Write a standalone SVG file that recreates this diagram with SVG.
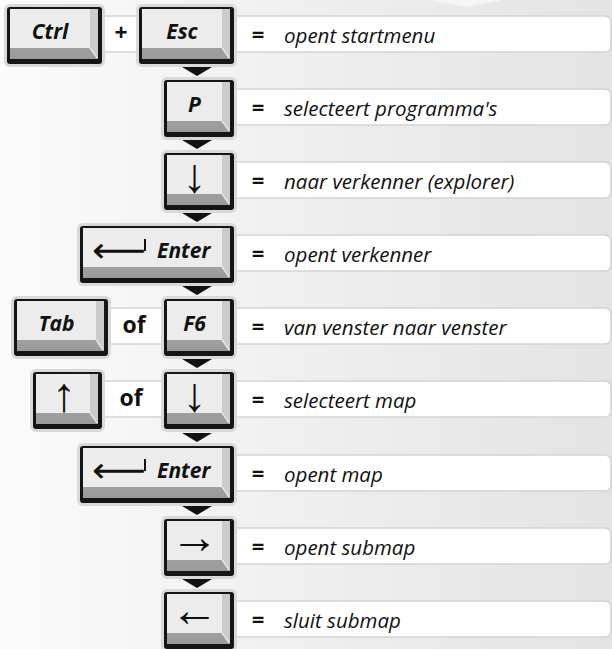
<svg xmlns="http://www.w3.org/2000/svg" width="612" height="649" viewBox="0 0 612 649">
<defs>
<linearGradient id="bg" x1="0" y1="0" x2="1" y2="0">
<stop offset="0" stop-color="#fbfbfb"/>
<stop offset="0.45" stop-color="#f0f0f0"/>
<stop offset="1" stop-color="#e3e3e3"/>
</linearGradient>
<linearGradient id="bbg" x1="0" y1="0" x2="0" y2="1">
<stop offset="0" stop-color="#b4b4b4"/>
<stop offset="1" stop-color="#9a9a9a"/>
</linearGradient>
<style>
.halo{fill:#d9d9d9}
.bd{fill:#151515}
.bb{fill:url(#bbg)}
.rb{fill:#cbcbcb}
.fc{fill:#ececec}
.hl{stroke:#f2f2f2;stroke-width:1.2}
.bar{fill:#ffffff;stroke:#d4d4d4;stroke-width:1.5}
.kl{font-family:"Open Sans","DejaVu Sans",sans-serif;font-weight:bold;font-style:italic;font-size:21px;fill:#111;text-anchor:middle}
.ar{font-family:"Liberation Sans","DejaVu Sans",sans-serif;font-size:48px;fill:#111;text-anchor:middle;dominant-baseline:central}
.la{font-family:"DejaVu Sans",sans-serif;font-size:35px;fill:#111;dominant-baseline:central}
.tick{stroke:#111;stroke-width:2}
.op{font-family:"Open Sans","DejaVu Sans",sans-serif;font-weight:bold;font-size:23px;fill:#111;text-anchor:middle}
.eq{font-family:"Open Sans","DejaVu Sans",sans-serif;font-weight:bold;font-size:22px;fill:#111;text-anchor:middle}
.ds{font-family:"Open Sans","DejaVu Sans",sans-serif;font-style:italic;font-size:20.5px;fill:#111}
.tri{fill:#111}
</style>
</defs>
<rect x="0" y="0" width="612" height="649" fill="url(#bg)"/>
<polygon points="430,0 466,7 502,0" fill="#f5f5f5"/>

<g id="bars">
<rect class="bar" x="100" y="16" width="511" height="36" rx="6"/>
<rect class="bar" x="228" y="89" width="383" height="36" rx="6"/>
<rect class="bar" x="228" y="162" width="383" height="36" rx="6"/>
<rect class="bar" x="228" y="235" width="383" height="36" rx="6"/>
<rect class="bar" x="104" y="308" width="507" height="36" rx="6"/>
<rect class="bar" x="99" y="381" width="512" height="36" rx="6"/>
<rect class="bar" x="228" y="455" width="383" height="36" rx="6"/>
<rect class="bar" x="228" y="528" width="383" height="36" rx="6"/>
<rect class="bar" x="228" y="601" width="383" height="36" rx="6"/>
</g>

<g id="connectors">
<polygon class="tri" points="182,67 212,67 197,76"/>
<polygon class="tri" points="182,140 212,140 197,149"/>
<polygon class="tri" points="182,213 212,213 197,222"/>
<polygon class="tri" points="182,286 212,286 197,295"/>
<polygon class="tri" points="182,359 212,359 197,368"/>
<polygon class="tri" points="182,433 212,433 197,442"/>
<polygon class="tri" points="182,506 212,506 197,515"/>
<polygon class="tri" points="182,579 212,579 197,588"/>
</g>

<!-- Row 0 -->
<g id="key-ctrl">
<rect class="halo" x="4" y="4" width="101" height="63" rx="6"/>
<rect class="bd" x="7" y="7" width="95" height="57" rx="3"/>
<rect class="bb" x="10" y="9" width="88" height="50"/>
<polygon class="rb" points="90,9 98,9 98,59 90,48"/>
<rect class="fc" x="10" y="9" width="80" height="39"/>
<line class="hl" x1="90" y1="48" x2="97" y2="58"/>
<text class="kl" x="50" y="39">Ctrl</text>
</g>
<g id="plus"><text class="op" x="121" y="41">+</text></g>
<g id="key-esc">
<rect class="halo" x="136" y="4" width="101" height="63" rx="6"/>
<rect class="bd" x="139" y="7" width="95" height="57" rx="3"/>
<rect class="bb" x="142" y="9" width="88" height="50"/>
<polygon class="rb" points="222,9 230,9 230,59 222,48"/>
<rect class="fc" x="142" y="9" width="80" height="39"/>
<line class="hl" x1="222" y1="48" x2="229" y2="58"/>
<text class="kl" x="182" y="39">Esc</text>
</g>
<g id="desc-0"><text class="eq" x="258" y="42">=</text><text class="ds" x="284" y="42.5">opent startmenu</text></g>

<!-- Row 1 -->
<g id="key-p">
<rect class="halo" x="161" y="77" width="76" height="63" rx="6"/>
<rect class="bd" x="164" y="80" width="70" height="57" rx="3"/>
<rect class="bb" x="167" y="82" width="63" height="50"/>
<polygon class="rb" points="222,82 230,82 230,132 222,121"/>
<rect class="fc" x="167" y="82" width="55" height="39"/>
<line class="hl" x1="222" y1="121" x2="229" y2="131"/>
<text class="kl" x="194.5" y="112">P</text>
</g>
<g id="desc-1"><text class="eq" x="258" y="115">=</text><text class="ds" x="284" y="115.5">selecteert programma's</text></g>

<!-- Row 2 -->
<g id="key-down-1">
<rect class="halo" x="161" y="150" width="76" height="63" rx="6"/>
<rect class="bd" x="164" y="153" width="70" height="57" rx="3"/>
<rect class="bb" x="167" y="155" width="63" height="50"/>
<polygon class="rb" points="222,155 230,155 230,205 222,194"/>
<rect class="fc" x="167" y="155" width="55" height="39"/>
<line class="hl" x1="222" y1="194" x2="229" y2="204"/>
<text class="ar" x="194.5" y="175">↓</text>
</g>
<g id="desc-2"><text class="eq" x="258" y="188">=</text><text class="ds" x="284" y="188.5">naar verkenner (explorer)</text></g>

<!-- Row 3 -->
<g id="key-enter-1">
<rect class="halo" x="77" y="223" width="160" height="63" rx="6"/>
<rect class="bd" x="80" y="226" width="154" height="57" rx="3"/>
<rect class="bb" x="83" y="228" width="147" height="50"/>
<polygon class="rb" points="222,228 230,228 230,278 222,267"/>
<rect class="fc" x="83" y="228" width="139" height="39"/>
<line class="hl" x1="222" y1="267" x2="229" y2="277"/>
<text class="la" x="92" y="250" textLength="54" lengthAdjust="spacingAndGlyphs">⟵</text>
<line class="tick" x1="145" y1="239" x2="145" y2="251"/>
<text class="kl" x="157" y="258" style="text-anchor:start">Enter</text>
</g>
<g id="desc-3"><text class="eq" x="258" y="261">=</text><text class="ds" x="284" y="261.5">opent verkenner</text></g>

<!-- Row 4 -->
<g id="key-tab">
<rect class="halo" x="11" y="296" width="100" height="63" rx="6"/>
<rect class="bd" x="14" y="299" width="94" height="57" rx="3"/>
<rect class="bb" x="17" y="301" width="87" height="50"/>
<polygon class="rb" points="96,301 104,301 104,351 96,340"/>
<rect class="fc" x="17" y="301" width="79" height="39"/>
<line class="hl" x1="96" y1="340" x2="103" y2="350"/>
<text class="kl" x="56.5" y="331">Tab</text>
</g>
<g id="of-1"><text class="op" x="134" y="333">of</text></g>
<g id="key-f6">
<rect class="halo" x="161" y="296" width="76" height="63" rx="6"/>
<rect class="bd" x="164" y="299" width="70" height="57" rx="3"/>
<rect class="bb" x="167" y="301" width="63" height="50"/>
<polygon class="rb" points="222,301 230,301 230,351 222,340"/>
<rect class="fc" x="167" y="301" width="55" height="39"/>
<line class="hl" x1="222" y1="340" x2="229" y2="350"/>
<text class="kl" x="194.5" y="331">F6</text>
</g>
<g id="desc-4"><text class="eq" x="258" y="334">=</text><text class="ds" x="284" y="334.5">van venster naar venster</text></g>

<!-- Row 5 -->
<g id="key-up">
<rect class="halo" x="30" y="369" width="75" height="63" rx="6"/>
<rect class="bd" x="33" y="372" width="69" height="57" rx="3"/>
<rect class="bb" x="36" y="374" width="62" height="50"/>
<polygon class="rb" points="90,374 98,374 98,424 90,413"/>
<rect class="fc" x="36" y="374" width="54" height="39"/>
<line class="hl" x1="90" y1="413" x2="97" y2="423"/>
<text class="ar" x="64" y="394">↑</text>
</g>
<g id="of-2"><text class="op" x="131" y="406">of</text></g>
<g id="key-down-2">
<rect class="halo" x="161" y="369" width="76" height="63" rx="6"/>
<rect class="bd" x="164" y="372" width="70" height="57" rx="3"/>
<rect class="bb" x="167" y="374" width="63" height="50"/>
<polygon class="rb" points="222,374 230,374 230,424 222,413"/>
<rect class="fc" x="167" y="374" width="55" height="39"/>
<line class="hl" x1="222" y1="413" x2="229" y2="423"/>
<text class="ar" x="194.5" y="394">↓</text>
</g>
<g id="desc-5"><text class="eq" x="258" y="407">=</text><text class="ds" x="284" y="407.5">selecteert map</text></g>

<!-- Row 6 -->
<g id="key-enter-2">
<rect class="halo" x="77" y="443" width="160" height="63" rx="6"/>
<rect class="bd" x="80" y="446" width="154" height="57" rx="3"/>
<rect class="bb" x="83" y="448" width="147" height="50"/>
<polygon class="rb" points="222,448 230,448 230,498 222,487"/>
<rect class="fc" x="83" y="448" width="139" height="39"/>
<line class="hl" x1="222" y1="487" x2="229" y2="497"/>
<text class="la" x="92" y="470" textLength="54" lengthAdjust="spacingAndGlyphs">⟵</text>
<line class="tick" x1="145" y1="459" x2="145" y2="471"/>
<text class="kl" x="157" y="478" style="text-anchor:start">Enter</text>
</g>
<g id="desc-6"><text class="eq" x="258" y="481">=</text><text class="ds" x="284" y="481.5">opent map</text></g>

<!-- Row 7 -->
<g id="key-right">
<rect class="halo" x="161" y="516" width="76" height="63" rx="6"/>
<rect class="bd" x="164" y="519" width="70" height="57" rx="3"/>
<rect class="bb" x="167" y="521" width="63" height="50"/>
<polygon class="rb" points="222,521 230,521 230,571 222,560"/>
<rect class="fc" x="167" y="521" width="55" height="39"/>
<line class="hl" x1="222" y1="560" x2="229" y2="570"/>
<text class="ar" x="194.5" y="536">→</text>
</g>
<g id="desc-7"><text class="eq" x="258" y="554">=</text><text class="ds" x="284" y="554.5">opent submap</text></g>

<!-- Row 8 -->
<g id="key-left">
<rect class="halo" x="161" y="589" width="76" height="63" rx="6"/>
<rect class="bd" x="164" y="592" width="70" height="57" rx="3"/>
<rect class="bb" x="167" y="594" width="63" height="50"/>
<polygon class="rb" points="222,594 230,594 230,644 222,633"/>
<rect class="fc" x="167" y="594" width="55" height="39"/>
<line class="hl" x1="222" y1="633" x2="229" y2="643"/>
<text class="ar" x="194.5" y="609">←</text>
</g>
<g id="desc-8"><text class="eq" x="258" y="627">=</text><text class="ds" x="284" y="627.5">sluit submap</text></g>
</svg>
